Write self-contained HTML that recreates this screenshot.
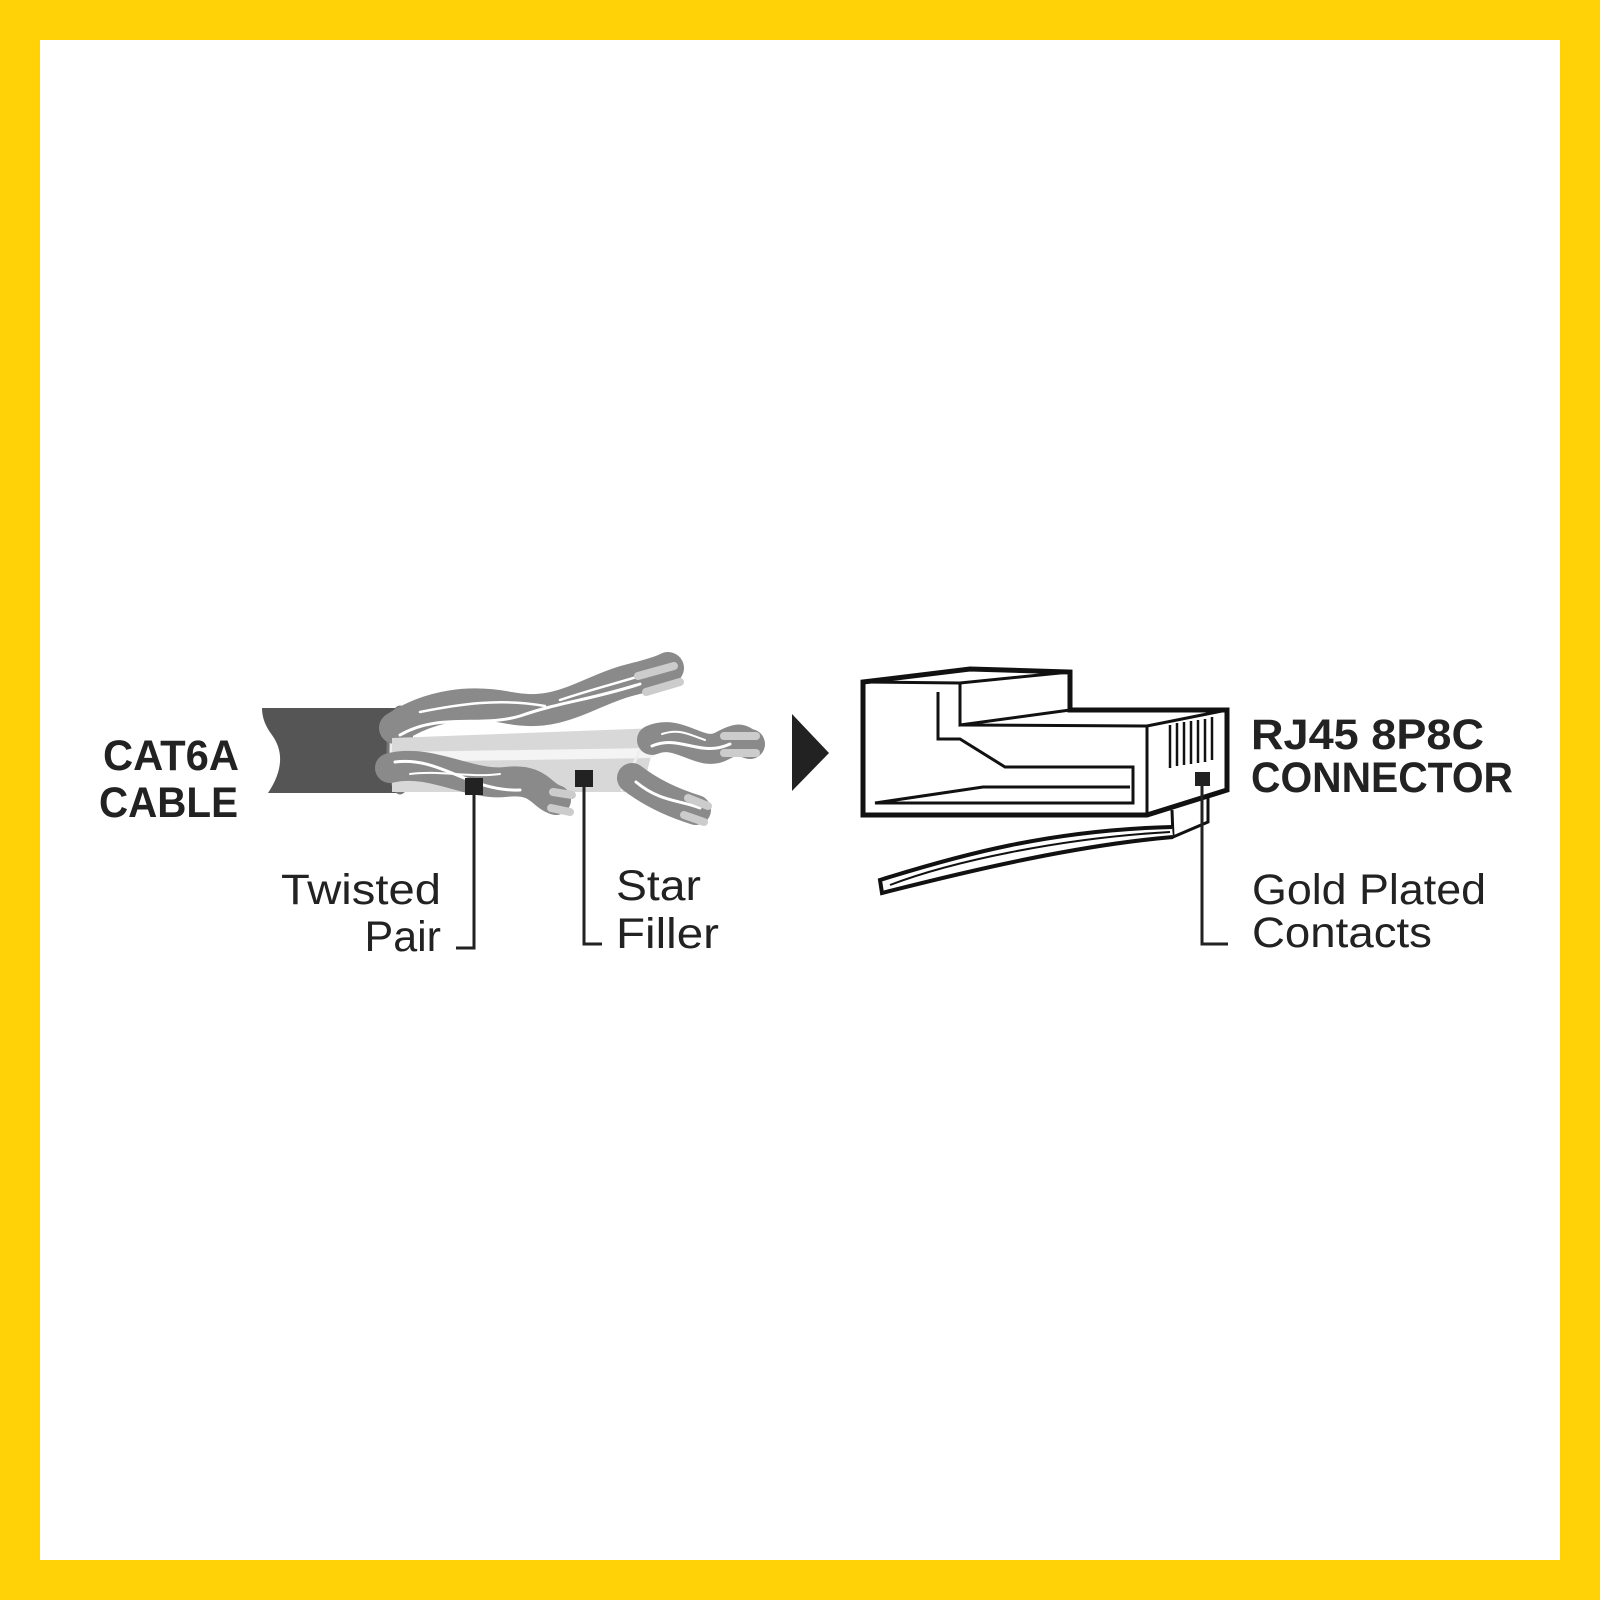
<!DOCTYPE html>
<html><head><meta charset="utf-8"><style>
html,body{margin:0;padding:0;width:1600px;height:1600px;overflow:hidden;background:#FFD208}
svg{display:block}
text{font-family:"Liberation Sans",sans-serif;fill:#222}
</style></head><body>
<svg width="1600" height="1600" viewBox="0 0 1600 1600" xmlns="http://www.w3.org/2000/svg">
<rect x="0" y="0" width="1600" height="1600" fill="#FFD208"/>
<rect x="40" y="40" width="1520" height="1520" fill="#fff"/>

<!-- Cable jacket -->
<path d="M262 708 L398 708 Q408 750 398 793 L268 793 Q290 760 272 735 Q262 722 262 708 Z" fill="#555"/>
<ellipse cx="400" cy="750" rx="12" ry="43" fill="#eee" stroke="#777" stroke-width="3"/>

<g stroke-linecap="round" fill="none">
<!-- top twisted pair -->
<path d="M395 728 C430 705 470 700 510 708 C560 718 590 690 630 680 C650 675 660 672 668 668" stroke="#8a8a8a" stroke-width="32"/>
<path d="M400 735 C440 712 480 728 520 716 C560 702 590 700 640 684" stroke="#fff" stroke-width="3"/>
<path d="M420 712 C460 704 500 698 545 706" stroke="#fff" stroke-width="2.5"/>
<path d="M560 700 C590 690 610 685 640 676" stroke="#fff" stroke-width="2.5"/>
<path d="M638 676 L674 666" stroke="#ccc" stroke-width="8"/>
<path d="M646 692 L680 682" stroke="#ccc" stroke-width="8"/>

<!-- filler -->
<path d="M392 738 L658 728 L642 792 L392 792 Z" fill="#d8d8d8"/>
<path d="M392 757 L650 753" stroke="#f4f4f4" stroke-width="10"/>
<path d="M648 732 L622 790" stroke="#eee" stroke-width="3"/>

<!-- right pair -->
<path d="M652 740 C680 728 700 758 722 746 S740 742 750 744" stroke="#8a8a8a" stroke-width="30"/>
<path d="M652 746 C680 734 700 758 730 744" stroke="#fff" stroke-width="3"/>
<path d="M662 734 C680 728 690 735 705 740" stroke="#fff" stroke-width="2"/>
<path d="M724 736 L756 736" stroke="#ccc" stroke-width="8"/>
<path d="M724 753 L756 753" stroke="#ccc" stroke-width="8"/>

<!-- bottom-left pair -->
<path d="M390 768 C430 758 470 786 505 782 S540 795 556 800" stroke="#8a8a8a" stroke-width="30"/>
<path d="M395 762 C440 756 470 792 520 790" stroke="#fff" stroke-width="3"/>
<path d="M410 774 C440 770 470 778 500 774" stroke="#fff" stroke-width="2"/>
<path d="M553 792 L572 795" stroke="#ccc" stroke-width="8"/>
<path d="M551 808 L570 812" stroke="#ccc" stroke-width="8"/>

<!-- bottom-right pair -->
<path d="M632 778 C650 792 670 802 696 810" stroke="#8a8a8a" stroke-width="30"/>
<path d="M636 782 C660 802 680 800 700 808" stroke="#fff" stroke-width="3"/>
<path d="M688 798 L708 806" stroke="#ccc" stroke-width="8"/>
<path d="M684 815 L704 822" stroke="#ccc" stroke-width="8"/>
</g>

<!-- markers and leaders -->
<rect x="465" y="778" width="18" height="17" fill="#222"/>
<path d="M474 795 L474 948 L456 948" stroke="#222" stroke-width="3" fill="none"/>
<rect x="575" y="770" width="18" height="17" fill="#222"/>
<path d="M584 787 L584 944 L602 944" stroke="#222" stroke-width="3" fill="none"/>

<!-- Arrow -->
<polygon points="792,714 829,753 792,791" fill="#222"/>

<!-- Connector -->
<g fill="none" stroke="#111" stroke-linejoin="miter">
<path d="M863 682 L970 669 L1070 672 L1070 710 L1227 710 L1227 790 L1147 815 L863 815 Z" fill="#fff" stroke-width="5"/>
<path d="M863 682 L960 683 L1070 672" stroke-width="3"/>
<path d="M960 683 L960 725 L1070 710" stroke-width="3"/>
<path d="M960 725 L1147 726 L1227 710" stroke-width="3"/>
<path d="M1147 726 L1147 815" stroke-width="3"/>
<path d="M938 692 L938 739 L960 739 L1005 767 L1133 767 L1133 803 L875 803 L983 787 L1130 787" stroke-width="3"/>
<g stroke-width="2.5">
<path d="M1170 725 L1170 768"/><path d="M1177 723 L1177 766"/><path d="M1184 722 L1184 765"/><path d="M1191 721 L1191 764"/><path d="M1198 720 L1198 763"/><path d="M1205 719 L1205 762"/><path d="M1212 717 L1212 760"/>
</g>
<path d="M1172 810 L1173 837 L1208 822 L1208 795" stroke-width="3"/>
<path d="M1172 827 C1050 830 960 855 880 880 L882 893 C980 868 1080 845 1173 837" fill="#fff" stroke-width="4"/>
<path d="M1170 832 C1060 838 950 862 890 885" stroke-width="2"/>
</g>
<rect x="1195" y="772" width="15" height="14" fill="#222"/>
<path d="M1202 786 L1202 944 L1228 944" stroke="#222" stroke-width="3" fill="none"/>

<!-- Labels -->
<text x="103" y="770" font-size="43" font-weight="bold" textLength="136" lengthAdjust="spacingAndGlyphs">CAT6A</text>
<text x="99" y="817" font-size="43" font-weight="bold" textLength="139" lengthAdjust="spacingAndGlyphs">CABLE</text>
<text x="281" y="904" font-size="43" textLength="160" lengthAdjust="spacingAndGlyphs">Twisted</text>
<text x="441" y="951" font-size="43" text-anchor="end">Pair</text>
<text x="616" y="900" font-size="43" textLength="85" lengthAdjust="spacingAndGlyphs">Star</text>
<text x="616" y="948" font-size="43" textLength="103" lengthAdjust="spacingAndGlyphs">Filler</text>
<text x="1251" y="749" font-size="43" font-weight="bold" textLength="233" lengthAdjust="spacingAndGlyphs">RJ45 8P8C</text>
<text x="1251" y="792" font-size="43" font-weight="bold" textLength="262" lengthAdjust="spacingAndGlyphs">CONNECTOR</text>
<text x="1252" y="904" font-size="43" textLength="234" lengthAdjust="spacingAndGlyphs">Gold Plated</text>
<text x="1252" y="947" font-size="43" textLength="180" lengthAdjust="spacingAndGlyphs">Contacts</text>
</svg>
</body></html>
